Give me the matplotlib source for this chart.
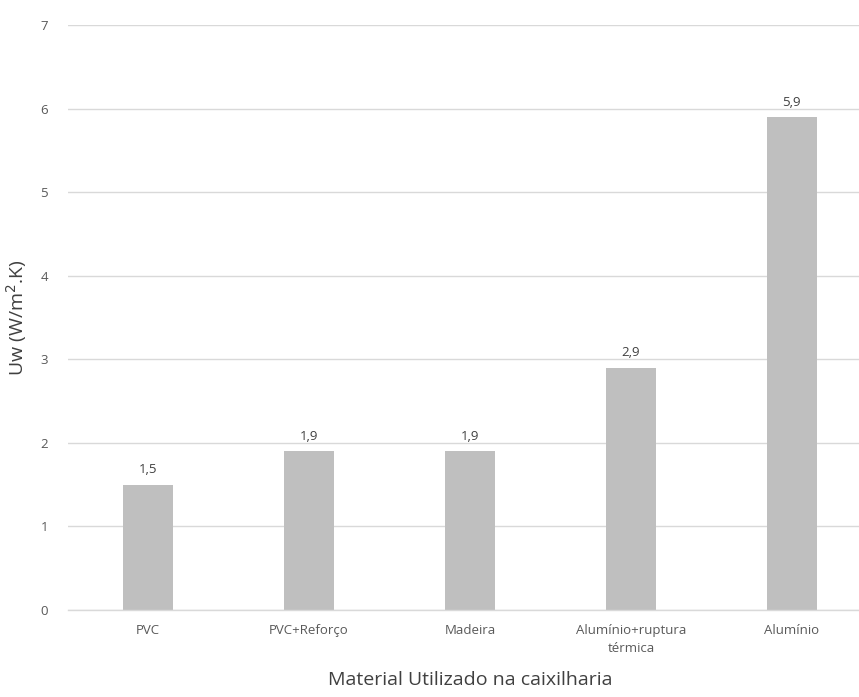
import matplotlib
matplotlib.use("Agg")
import matplotlib.pyplot as plt
import numpy as np

plt.rcParams.update({
    "font.family": ["Open Sans", "DejaVu Sans"],
    "text.color": "#595959",
    "axes.labelcolor": "#404040",
    "xtick.color": "#595959",
    "ytick.color": "#595959",
})

materiais = ["PVC", "PVC+Reforço", "Madeira", "Alumínio+ruptura\ntérmica", "Alumínio"]
uw = [1.5, 1.9, 1.9, 2.9, 5.9]
yticks = [0, 1, 2, 3, 4, 5, 6, 7]

BAR_C = "#bfbfbf"
GRID_C = "#d9d9d9"

fig = plt.figure(figsize=(8.59, 6.97), dpi=100)
# plot area runs a little past the right edge of the canvas
ax = fig.add_axes([0.0786, 0.125, 0.937, 0.8385])

x = np.arange(len(materiais))
bars = ax.bar(x, uw, width=0.31, color=BAR_C, zorder=2)
for b, v in zip(bars, uw):
    ax.annotate(f"{v:.1f}".replace(".", ","),
                (b.get_x() + b.get_width() / 2, v),
                xytext=(0, 6), textcoords="offset points",
                ha="center", va="bottom", fontsize=9.5, color="#404040")

ax.set_xlim(-0.5, len(materiais) - 0.5)
ax.set_ylim(0, 7)
ax.set_yticks(yticks)
ax.set_xticks(x)
ax.set_xticklabels(materiais, fontsize=9.5, linespacing=1.5)
ax.tick_params(axis="y", length=0, pad=14, labelsize=9.5)
ax.tick_params(axis="x", length=0, pad=10)
ax.yaxis.grid(True, color=GRID_C, linewidth=1.0, zorder=0)
ax.set_axisbelow(True)
for s in ["top", "right", "left"]:
    ax.spines[s].set_visible(False)
ax.spines["bottom"].set_color(GRID_C)
ax.spines["bottom"].set_linewidth(1.0)

ax.set_ylabel("Uw (W/m$^2$.K)", fontsize=14, labelpad=8)
ax.set_xlabel("Material Utilizado na caixilharia", fontsize=14, labelpad=12)

fig.savefig("out.png", dpi=100, facecolor="white")
